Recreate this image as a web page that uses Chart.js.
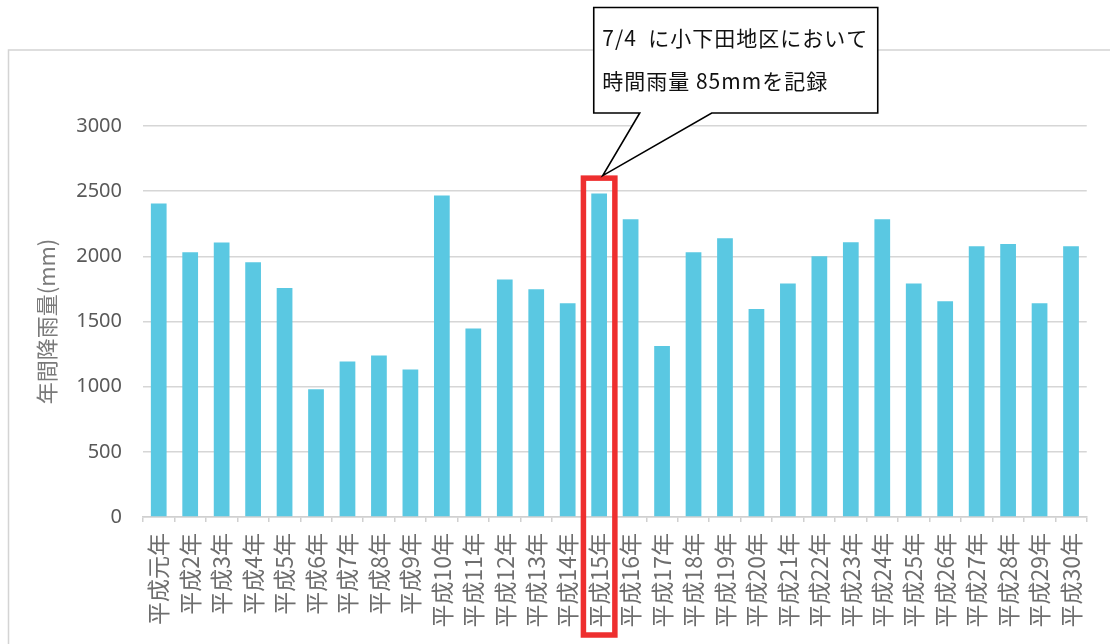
<!DOCTYPE html>
<html lang="ja">
<head>
<meta charset="utf-8">
<title>年間降雨量</title>
<script src="https://cdn.jsdelivr.net/npm/chart.js@4.4.1/dist/chart.umd.min.js"></script>
<style>
  html, body { margin: 0; padding: 0; background: #fff; overflow: hidden; }
  canvas { display: block; }
</style>
</head>
<body>
<canvas id="c" width="1110" height="644"></canvas>
<script>
// 年次ごとの年間降雨量 (mm)
const categories = [
  '平成元年', '平成2年', '平成3年', '平成4年', '平成5年', '平成6年', '平成7年', '平成8年',
  '平成9年', '平成10年', '平成11年', '平成12年', '平成13年', '平成14年', '平成15年',
  '平成16年', '平成17年', '平成18年', '平成19年', '平成20年', '平成21年', '平成22年',
  '平成23年', '平成24年', '平成25年', '平成26年', '平成27年', '平成28年', '平成29年', '平成30年'
];
const rainfall = [
  2405, 2031, 2106, 1955, 1757, 980, 1193, 1239,
  1131, 2466, 1446, 1822, 1747, 1640, 2482,
  2285, 1312, 2031, 2139, 1596, 1791, 2001,
  2108, 2285, 1791, 1655, 2077, 2095, 1640, 2077
];
const yTicks = [0, 500, 1000, 1500, 2000, 2500, 3000];
const yAxisTitle = '年間降雨量(mm)';

// 強調する年と吹き出しの文言
const highlightIndex = 14;
const calloutLines = ['7/4  に小下田地区において', '時間雨量 85mmを記録'];

const CJK = '"Noto Sans CJK JP", "Noto Sans", sans-serif';

// 外枠の線
const framePlugin = {
  id: 'frame',
  beforeDraw(chart) {
    const ctx = chart.ctx;
    ctx.save();
    ctx.strokeStyle = '#d4d4d4';
    ctx.lineWidth = 1.5;
    ctx.beginPath();
    ctx.moveTo(8.5, 700);
    ctx.lineTo(8.5, 50);
    ctx.lineTo(1200, 50);
    ctx.stroke();
    ctx.restore();
  }
};

// 赤枠と吹き出し
const highlightPlugin = {
  id: 'highlight',
  afterDraw(chart) {
    const { ctx, chartArea, scales: { x, y } } = chart;
    const cx = x.getPixelForValue(highlightIndex);
    const half = (chartArea.right - chartArea.left) / categories.length / 2;
    const top = y.getPixelForValue(2600);
    const bottom = chartArea.bottom + 118;

    ctx.save();
    ctx.strokeStyle = '#ee2f2f';
    ctx.lineWidth = 5.5;
    ctx.strokeRect(cx - half, top, half * 2, bottom - top);

    // 吹き出し
    const tipX = cx + 3.6;
    const tipY = top - 2.5;
    const boxL = tipX - 9, boxR = tipX + 275, boxT = 7.5, boxB = 113;
    ctx.beginPath();
    ctx.moveTo(boxL, boxT);
    ctx.lineTo(boxR, boxT);
    ctx.lineTo(boxR, boxB);
    ctx.lineTo(tipX + 109, boxB);
    ctx.lineTo(tipX, tipY);
    ctx.lineTo(tipX + 37, boxB);
    ctx.lineTo(boxL, boxB);
    ctx.closePath();
    ctx.fillStyle = '#ffffff';
    ctx.fill();
    ctx.strokeStyle = '#000000';
    ctx.lineWidth = 1.6;
    ctx.lineJoin = 'miter';
    ctx.stroke();

    ctx.fillStyle = '#111111';
    ctx.font = '21px ' + CJK;
    ctx.textAlign = 'left';
    ctx.textBaseline = 'middle';
    if ('letterSpacing' in ctx) ctx.letterSpacing = '1px';
    ctx.fillText(calloutLines[0], tipX - 0.5, 38);
    ctx.fillText(calloutLines[1], tipX - 0.5, 81);
    ctx.restore();
  }
};

new Chart(document.getElementById('c'), {
  type: 'bar',
  data: {
    labels: categories,
    datasets: [{
      data: rainfall,
      backgroundColor: '#5ac8e2',
      borderWidth: 0,
      barPercentage: 0.5,
      categoryPercentage: 1.0
    }]
  },
  options: {
    responsive: false,
    animation: false,
    devicePixelRatio: 1,
    layout: { padding: { top: 126, right: 23, left: 0, bottom: 0 } },
    plugins: {
      legend: { display: false },
      tooltip: { enabled: false }
    },
    scales: {
      x: {
        grid: {
          display: true,
          drawOnChartArea: false,
          drawTicks: true,
          tickLength: 5,
          color: '#d0d0d0',
          lineWidth: 1.5,
          offset: true
        },
        border: { display: true, color: '#d0d0d0', width: 1.5 },
        ticks: {
          autoSkip: false,
          minRotation: 90,
          maxRotation: 90,
          padding: 11,
          color: '#6e6e6e',
          font: { family: CJK, size: 23 }
        },
        afterFit(scale) { scale.height = 127; }
      },
      y: {
        min: 0,
        max: 3000,
        afterBuildTicks(scale) { scale.ticks = yTicks.map(v => ({ value: v })); },
        grid: {
          color: '#d6d6d6',
          lineWidth: 1.5,
          drawTicks: false
        },
        border: { display: false },
        ticks: {
          padding: 21,
          color: '#595959',
          font: { family: '"Noto Sans", sans-serif', size: 20 },
          callback: (v) => String(v)
        },
        title: {
          display: true,
          text: yAxisTitle,
          color: '#7a7a7a',
          font: { family: CJK, size: 22, lineHeight: 1.2 },
          padding: { top: 33, bottom: 0 }
        },
        afterFit(scale) { scale.width = 143; }
      }
    }
  },
  plugins: [framePlugin, highlightPlugin]
});
</script>
</body>
</html>
